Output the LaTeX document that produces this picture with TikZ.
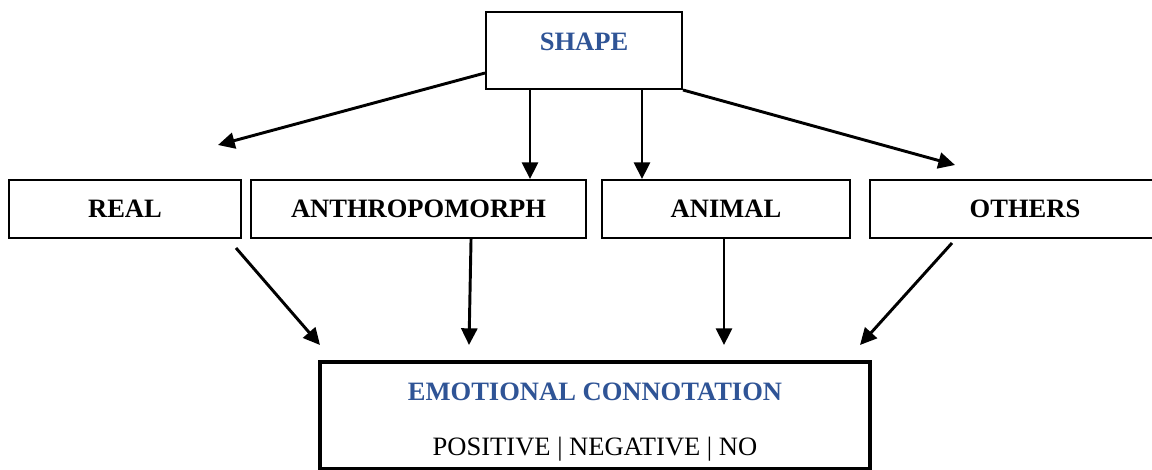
\documentclass[tikz,border=0pt]{standalone}
\usepackage{fontspec}
\setmainfont{Liberation Serif}
\usetikzlibrary{arrows.meta}
\definecolor{titleblue}{HTML}{2F5496}

\begin{document}
\begin{tikzpicture}[x=0.75pt, y=-0.75pt, >={Triangle[length=12.5pt,width=12pt]}]
    \tikzstyle{boxed}=[draw=black, line width=1.5pt, minimum height=43.5pt,
      inner sep=0pt, font=\fontsize{19.9}{24}\selectfont\bfseries]
    \tikzstyle{link}=[->, line width=2.2pt]
    \useasboundingbox (0,0) rectangle (1152,469);
    % top
    \draw (584,50.5) node[boxed, minimum width=147pt, minimum height=57.75pt,
      text=titleblue, text height=14pt, text depth=14pt] (SHAPE) {SHAPE};
    % categories
    \draw (125,209)    node[boxed, minimum width=174pt]    (REAL)   {REAL};
    \draw (418.5,209)  node[boxed, minimum width=251.25pt] (ANTHRO) {ANTHROPOMORPH};
    \draw (726,209)    node[boxed, minimum width=186pt]    (ANIMAL) {ANIMAL};
    \draw (1025,209)   node[boxed, minimum width=232.5pt]  (OTHERS) {OTHERS};
    % result
    \draw (595,415.5) node[boxed, line width=3pt, minimum width=412pt,
      minimum height=80pt, align=center, text height=62pt, text depth=2.75pt] (EMO)
      {{\color{titleblue}EMOTIONAL CONNOTATION}\\[17pt]{\mdseries POSITIVE | NEGATIVE | NO}};
    % free ends
    \coordinate (realtip) at (218,145);
    \coordinate (otherstip) at (955,165);
    \coordinate (emoA) at (320,345);
    \coordinate (emoB) at (469,345);
    \coordinate (emoC) at (724,345);
    \coordinate (emoD) at (860,345);
    \coordinate (downA) at ([xshift=33.75pt]SHAPE.south west);
    \coordinate (downB) at ([xshift=-30.75pt]SHAPE.south east);
    \draw[link] ([yshift=12.75pt]SHAPE.south west) -- (realtip);
    \draw[link] (downA) -- (downA |- ANTHRO.north);
    \draw[link] (downB) -- (downB |- ANIMAL.north);
    \draw[link] (SHAPE.south east) -- (otherstip);
    \draw[link] ([xshift=-4.5pt, yshift=-6.75pt]REAL.south east) -- (emoA);
    \draw[link] ([xshift=39.4pt]ANTHRO.south) -- (emoB);
    \draw[link] ([xshift=-1.5pt]ANIMAL.south) -- (emoC);
    \draw[link] ([xshift=62.25pt, yshift=-3pt]OTHERS.south west) -- (emoD);
  \end{tikzpicture}
\end{document}
